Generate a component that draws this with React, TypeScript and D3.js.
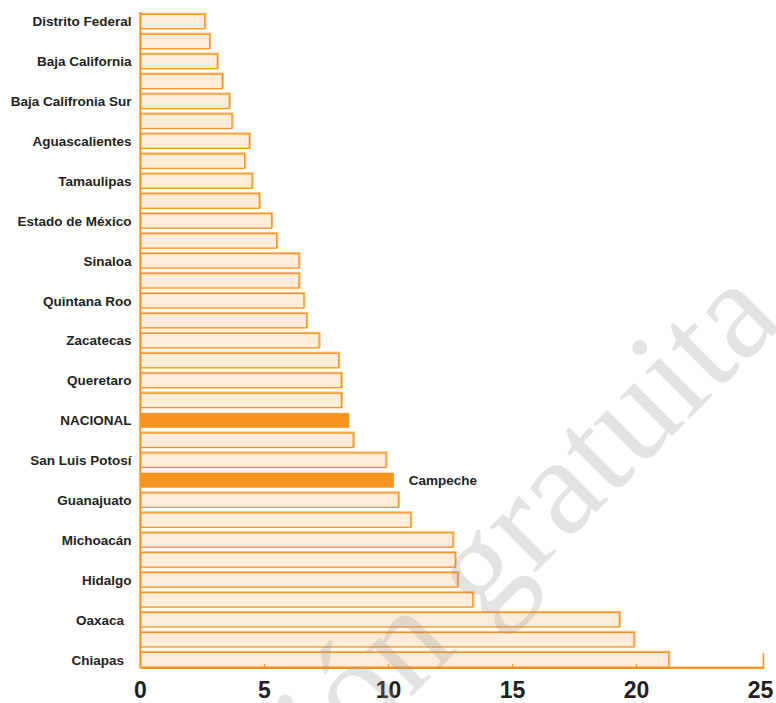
import React from "react";
import * as d3 from "d3";

const categories = [
  "Distrito Federal", "", "Baja California", "", "Baja Califronia Sur", "",
  "Aguascalientes", "", "Tamaulipas", "", "Estado de México", "",
  "Sinaloa", "", "Quintana Roo", "", "Zacatecas", "", "Queretaro", "",
  "NACIONAL", "", "San Luis Potosí", "Campeche", "Guanajuato", "",
  "Michoacán", "", "Hidalgo", "", "Oaxaca  ", "", "Chiapas  ",
];

const values = [
  2.59, 2.79, 3.10, 3.30, 3.58, 3.69, 4.39, 4.20, 4.50, 4.79, 5.29,
  5.49, 6.39, 6.39, 6.59, 6.70, 7.20, 7.99, 8.10, 8.10, 8.41, 8.58,
  9.90, 10.21, 10.40, 10.90, 12.60, 12.69, 12.79, 13.40, 19.31, 19.90, 21.30,
];

const highlighted = ["NACIONAL", "Campeche"];
const rightLabels = ["Campeche"];
const xTicks = [0, 5, 10, 15, 20, 25];
const watermark = "Distribución gratuita";

const W = 776;
const H = 703;
const ORANGE = "#f7941d";
const LIGHT = "#fdecd9";
const SHADOW = "#fcc68a";
const TEXT = "#231f20";

export default function App() {
  const x = d3.scaleLinear().domain([0, 25]).range([140.5, 760.5]);
  const idx = categories.map((_, i) => i);
  const y = d3
    .scaleBand<number>()
    .domain(idx)
    .range([14.3, 666.9])
    .paddingInner(0.273)
    .paddingOuter(0);
  const bw = y.bandwidth();
  const axisY = 668;
  const labelFont = "'Liberation Sans', Arial, Helvetica, sans-serif";

  return (
    <svg
      width={W}
      height={H}
      viewBox={`0 0 ${W} ${H}`}
      style={{ position: "absolute", left: 0, top: 0, background: "#fff" }}
    >
      <rect x={0} y={0} width={W} height={H} fill="#fff" />
      {/* bars */}
      <g>
        {idx.map((i) => {
          const name = categories[i].trim();
          const hi = highlighted.includes(name);
          const y0 = y(i) as number;
          const x0 = x(0);
          const w = x(values[i]) - x0;
          return (
            <g key={i}>
              {!hi && (
                <rect
                  x={x0 + 1}
                  y={y0 - 1}
                  width={w}
                  height={bw}
                  fill="none"
                  stroke={SHADOW}
                  strokeWidth={1.4}
                />
              )}
              <rect
                x={x0}
                y={y0}
                width={w}
                height={bw}
                fill={hi ? ORANGE : LIGHT}
                stroke={ORANGE}
                strokeWidth={hi ? 0.5 : 1.3}
              />
            </g>
          );
        })}
      </g>
      {/* y axis line */}
      <line x1={x(0) - 1} x2={x(0) - 1} y1={12} y2={axisY} stroke="#fbc58a" strokeWidth={1.2} />
      <line x1={x(0)} x2={x(0)} y1={12} y2={axisY} stroke={ORANGE} strokeWidth={1.6} />
      {/* x axis */}
      <line x1={x(0)} x2={x(25) + 3} y1={axisY - 1.2} y2={axisY - 1.2} stroke="#fbc58a" strokeWidth={1} />
      <line x1={x(0)} x2={x(25) + 3} y1={axisY} y2={axisY} stroke={ORANGE} strokeWidth={1.8} />
      {xTicks.slice(1, -1).map((t) => (
        <line key={t} x1={x(t)} x2={x(t)} y1={axisY - 4} y2={axisY} stroke={ORANGE} strokeWidth={1.2} />
      ))}
      <line x1={x(25) + 3} x2={x(25) + 3} y1={axisY - 15} y2={axisY + 0.9} stroke={ORANGE} strokeWidth={1.6} />
      {/* tick labels */}
      {xTicks.map((t) => (
        <text
          key={t}
          x={x(t)}
          y={697.5}
          textAnchor="middle"
          fontFamily={labelFont}
          fontWeight="bold"
          fontSize={23}
          fill={TEXT}
        >
          {t}
        </text>
      ))}
      {/* category labels */}
      {idx.map((i) => {
        const name = categories[i];
        if (!name) return null;
        const right = rightLabels.includes(name.trim());
        const cy = (y(i) as number) + bw / 2;
        return (
          <text
            key={"l" + i}
            x={right ? x(values[i]) + 15 : 131.5}
            y={cy}
            dy="0.36em"
            textAnchor={right ? "start" : "end"}
            fontFamily={labelFont}
            fontWeight="bold"
            fontSize={13.5}
            fill={TEXT}
            style={{ whiteSpace: "pre" }}
          >
            {name}
          </text>
        );
      })}
      {/* watermark */}
      <text
        transform="translate(786,322) rotate(-45)"
        textAnchor="end"
        fontFamily="'Liberation Serif', 'Times New Roman', serif"
        fontSize={140}
        fill="#8f8f8f"
        fillOpacity={0.25}
      >
        {watermark}
      </text>
    </svg>
  );
}
